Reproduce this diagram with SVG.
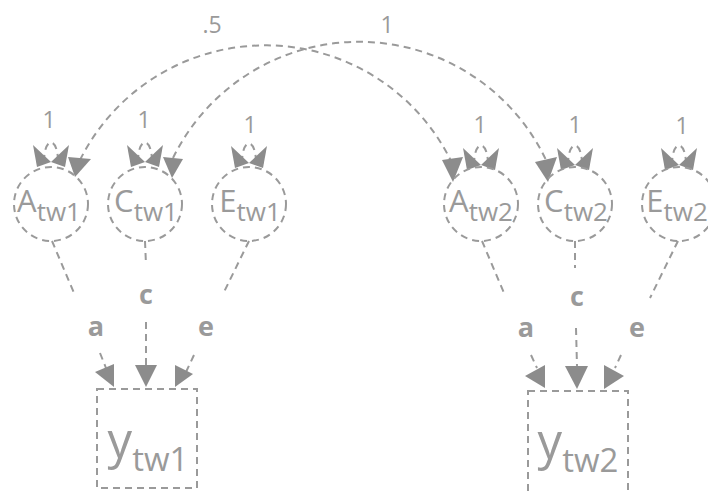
<svg xmlns="http://www.w3.org/2000/svg" xmlns:xlink="http://www.w3.org/1999/xlink" width="708" height="491" viewBox="0 0 708 491">
  <style>
    .dash { fill: none; stroke: #9a9a9a; stroke-width: 2; stroke-dasharray: 7 5; }
    .head { fill: #8c8c8c; stroke: none; }
    .txt { font-family: "Open Sans", "Noto Sans", "Liberation Sans", sans-serif; fill: #9a9a9a; }
    .num { font-size: 23px; text-anchor: middle; }
    .path-lbl { font-size: 27px; font-weight: bold; text-anchor: middle; }
    .lat { font-size: 31px; text-anchor: middle; }
    .lat .sub { font-size: 26px; }
    .obs { font-size: 49px; text-anchor: middle; }
    .obs .sub { font-size: 33px; }
  </style>
  <defs>
    <!-- variance loop: small dashed cap with two heads meeting at the origin -->
    <g id="bowtie">
      <path class="dash" d="M-7,0 C-7,-26 7,-26 7,0" stroke-dasharray="5 4"/>
      <polygon class="head" points="-18,-17 -14,5 0,0"/>
      <polygon class="head" points="18,-17 14,5 0,0"/>
    </g>
  </defs>

  <rect width="708" height="491" fill="#ffffff"/>

  <!-- connectors -->
  <g id="connectors">
    <!-- covariance arcs between twins -->
    <path class="dash" d="M80,160 A207,207 0 0 1 452,163"/>
    <polygon class="head" points="68,157 91,159 75,177"/>
    <polygon class="head" points="442,160 463,157 453,182"/>
    <text class="txt num" x="212" y="33">.5</text>

    <path class="dash" d="M173,158 A207,207 0 0 1 546,160"/>
    <polygon class="head" points="163,157 183,159 172,178"/>
    <polygon class="head" points="535,162 557,157 548,182"/>
    <text class="txt num" x="387" y="33">1</text>

    <!-- variance loops -->
    <use xlink:href="#bowtie" x="51" y="162"/>
    <use xlink:href="#bowtie" x="145" y="162"/>
    <use xlink:href="#bowtie" x="249" y="163"/>
    <use xlink:href="#bowtie" x="481" y="165"/>
    <use xlink:href="#bowtie" x="575" y="165"/>
    <use xlink:href="#bowtie" x="679" y="165"/>
    <text class="txt num" x="49" y="128">1</text>
    <text class="txt num" x="144" y="128">1</text>
    <text class="txt num" x="250" y="133">1</text>
    <text class="txt num" x="480" y="133">1</text>
    <text class="txt num" x="575" y="133">1</text>
    <text class="txt num" x="682" y="134">1</text>

    <!-- twin 1 paths -->
    <path class="dash" d="M52,241 L74,293 M100,353 L106,368"/>
    <polygon class="head" points="95,372 114,364 114,387"/>
    <text class="txt path-lbl" x="96" y="336">a</text>

    <path class="dash" d="M145,241 L146,265 M146,322 L146,365"/>
    <polygon class="head" points="135,365 157,365 146,387"/>
    <text class="txt path-lbl" x="146" y="304">c</text>

    <path class="dash" d="M249,241 L224,292 M194,355 L186,372"/>
    <polygon class="head" points="175,365 175,387 193,374"/>
    <text class="txt path-lbl" x="206" y="336">e</text>

    <!-- twin 2 paths -->
    <path class="dash" d="M482,241 L504,293 M531,355 L537,368"/>
    <polygon class="head" points="525,376 545,365 545,388"/>
    <text class="txt path-lbl" x="526" y="337">a</text>

    <path class="dash" d="M575,241 L575,268 M576,328 L577,366"/>
    <polygon class="head" points="565,366 588,366 577,389"/>
    <text class="txt path-lbl" x="577" y="306">c</text>

    <path class="dash" d="M678,241 L650,298 M621,355 L615,368"/>
    <polygon class="head" points="604,365 604,389 624,376"/>
    <text class="txt path-lbl" x="637" y="337">e</text>
  </g>

  <!-- latent factors, twin 1 -->
  <g id="A_tw1">
    <circle class="dash" cx="51" cy="204" r="37"/>
    <text class="txt lat" x="49" y="212">A<tspan class="sub" dy="9">tw1</tspan></text>
  </g>
  <g id="C_tw1">
    <circle class="dash" cx="145" cy="204" r="37"/>
    <text class="txt lat" x="146" y="212">C<tspan class="sub" dy="9">tw1</tspan></text>
  </g>
  <g id="E_tw1">
    <circle class="dash" cx="249" cy="204" r="37"/>
    <text class="txt lat" x="250" y="212">E<tspan class="sub" dy="9">tw1</tspan></text>
  </g>

  <!-- latent factors, twin 2 -->
  <g id="A_tw2">
    <circle class="dash" cx="481" cy="204" r="37"/>
    <text class="txt lat" x="481" y="212">A<tspan class="sub" dy="9">tw2</tspan></text>
  </g>
  <g id="C_tw2">
    <circle class="dash" cx="575" cy="204" r="37"/>
    <text class="txt lat" x="576" y="212">C<tspan class="sub" dy="9">tw2</tspan></text>
  </g>
  <g id="E_tw2">
    <circle class="dash" cx="679" cy="204" r="37"/>
    <text class="txt lat" x="677" y="212">E<tspan class="sub" dy="9">tw2</tspan></text>
  </g>

  <!-- observed phenotypes -->
  <g id="y_tw1">
    <rect class="dash" x="97" y="389" width="100" height="99"/>
    <text class="txt obs" x="148" y="458">y<tspan class="sub" dy="13">tw1</tspan></text>
  </g>
  <g id="y_tw2">
    <rect class="dash" x="528" y="391" width="100" height="106"/>
    <text class="txt obs" x="578" y="459">y<tspan class="sub" dy="13">tw2</tspan></text>
  </g>
</svg>
